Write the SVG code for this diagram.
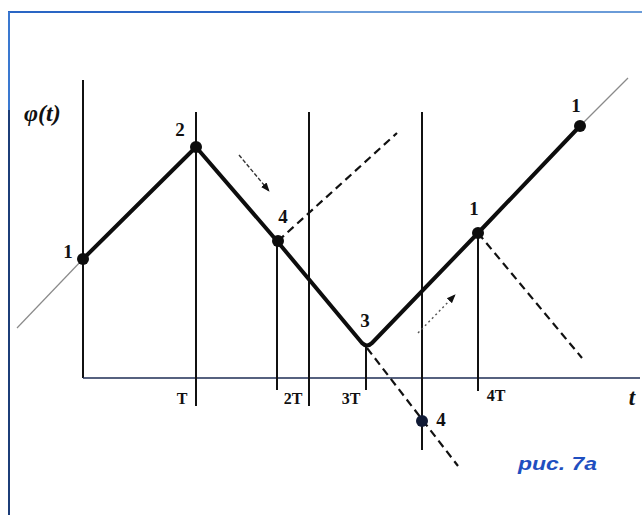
<svg xmlns="http://www.w3.org/2000/svg" width="642" height="515" viewBox="0 0 642 515">
<style>
.lbl{font-family:"Liberation Serif",serif;font-weight:bold;font-size:19px;fill:#111;text-anchor:middle}
.tick{font-family:"Liberation Serif",serif;font-weight:bold;font-size:16px;fill:#111;text-anchor:middle}
.vl{stroke:#111;stroke-width:2;fill:none}
.dash{stroke:#111;stroke-width:2.2;stroke-dasharray:8 5;fill:none}
.thin{stroke:#8a8a8a;stroke-width:1.2;fill:none}
.dot{fill:#0d0d0d}
</style>
<defs>
<marker id="ah" viewBox="0 0 10 10" refX="9" refY="5" markerWidth="9" markerHeight="9" orient="auto" markerUnits="userSpaceOnUse">
<path d="M0,1 L10,5 L0,9 z" fill="#111"/>
</marker>
</defs>
<rect width="642" height="515" fill="#ffffff"/>
<g id="frame">
<line x1="8" y1="12" x2="300" y2="12" stroke="#2a66c4" stroke-width="2"/>
<line x1="300" y1="12" x2="642" y2="12" stroke="#6a9bd8" stroke-width="2"/>
<line x1="9" y1="12" x2="9" y2="110" stroke="#3a78d0" stroke-width="2"/>
<line x1="9" y1="110" x2="9" y2="515" stroke="#1c3d78" stroke-width="2"/>
</g>
<g id="axes">
<line x1="83" y1="80" x2="83" y2="378" stroke="#111" stroke-width="2"/>
<line x1="83" y1="378" x2="640" y2="378" stroke="#1e2d55" stroke-width="1.6"/>
<text x="24" y="121" font-family="Liberation Serif,serif" font-style="italic" font-weight="bold" font-size="24" fill="#111">φ(t)</text>
<text x="632" y="405" font-family="Liberation Serif,serif" font-style="italic" font-weight="bold" font-size="23" fill="#111" text-anchor="middle">t</text>
</g>
<g id="gridlines">
<line class="vl" x1="196" y1="112" x2="196" y2="406"/>
<line class="vl" x1="277" y1="241" x2="277" y2="390"/>
<line class="vl" x1="309" y1="112" x2="309" y2="406"/>
<line class="vl" x1="366" y1="347" x2="366" y2="390"/>
<line class="vl" x1="422" y1="112" x2="422" y2="450"/>
<line class="vl" x1="478" y1="233" x2="478" y2="391"/>
</g>
<g id="ticks">
<text class="tick" x="182" y="404">T</text>
<text class="tick" x="293" y="404">2T</text>
<text class="tick" x="351" y="404">3T</text>
<text class="tick" x="496" y="401">4T</text>
</g>
<g id="connectors">
<line class="thin" x1="17" y1="328" x2="83" y2="259"/>
<line class="thin" x1="580" y1="126" x2="628" y2="78"/>
<path d="M83,259 L196,147 L277,241 L362,343 Q367,348 372,343 L478,233 L580,126" stroke="#0d0d0d" stroke-width="4" fill="none" stroke-linejoin="round"/>
<line class="dash" x1="278" y1="241" x2="397" y2="133"/>
<line class="dash" x1="367" y1="348" x2="458" y2="466"/>
<line class="dash" x1="478" y1="233" x2="582" y2="358"/>
<line x1="239" y1="155" x2="269" y2="191" stroke="#333" stroke-width="1.4" stroke-dasharray="4 2" marker-end="url(#ah)"/>
<line x1="418" y1="333" x2="455" y2="295" stroke="#555" stroke-width="1.4" stroke-dasharray="2 3" marker-end="url(#ah)"/>
</g>
<g id="n1a"><circle class="dot" cx="83" cy="259" r="6"/><text class="lbl" x="68" y="258">1</text></g>
<g id="n2"><circle class="dot" cx="196" cy="147" r="6"/><text class="lbl" x="180" y="136">2</text></g>
<g id="n4a"><circle class="dot" cx="278" cy="241" r="6"/><text class="lbl" x="283" y="223">4</text></g>
<g id="n3"><text class="lbl" x="365" y="327">3</text></g>
<g id="n1b"><circle class="dot" cx="478" cy="233" r="6"/><text class="lbl" x="474" y="215">1</text></g>
<g id="n1c"><circle class="dot" cx="580" cy="126" r="6"/><text class="lbl" x="576" y="112">1</text></g>
<g id="n4b"><circle cx="422" cy="421" r="6" fill="#101a35"/><text class="lbl" x="441" y="426">4</text></g>
<g id="caption"><text x="518" y="470" font-family="Liberation Sans,Arial,sans-serif" font-weight="bold" font-style="italic" font-size="18" fill="#1f4fc0" textLength="79" lengthAdjust="spacingAndGlyphs">рис. 7а</text></g>
</svg>
